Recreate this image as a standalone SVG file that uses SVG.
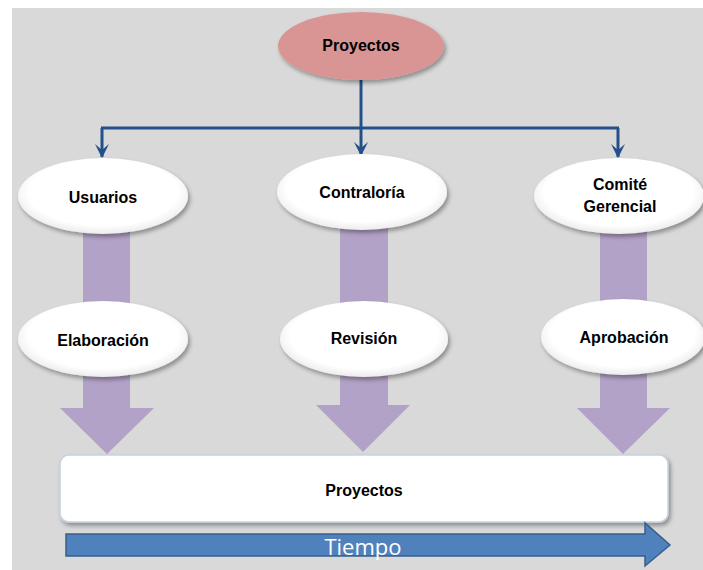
<svg xmlns="http://www.w3.org/2000/svg" width="703" height="570" viewBox="0 0 703 570">
  <style>
    .lbl { font-family: "Liberation Sans", Arial, sans-serif; font-weight: bold; font-size: 16px; fill: #000; text-anchor: middle; }
    .oval { fill: url(#ovalFill); filter: url(#shadow); }
    .flow { fill: #b3a2c7; }
    .link { fill: none; stroke: #24508a; stroke-width: 3; }
  </style>
  <defs>
    <radialGradient id="ovalFill" cx="50%" cy="45%" r="55%">
      <stop offset="0.8" stop-color="#ffffff"/>
      <stop offset="1" stop-color="#ececec"/>
    </radialGradient>
    <filter id="shadow" x="-20%" y="-20%" width="140%" height="150%">
      <feDropShadow dx="2" dy="3" stdDeviation="2" flood-color="#000" flood-opacity="0.35"/>
    </filter>
    <!-- chevron head drawn along +x so orient="auto" turns it with the line -->
    <marker id="head" viewBox="0 0 14 14" refX="13" refY="7" markerWidth="14" markerHeight="14" markerUnits="userSpaceOnUse" orient="auto">
      <path d="M0,0 L14,7 L0,14 L6,7 z" fill="#24508a"/>
    </marker>
  </defs>

  <!-- canvas -->
  <rect x="12" y="8" width="691" height="562" fill="#d9d9d9"/>

  <!-- wide flow arrows behind the ovals -->
  <g id="flows">
    <path class="flow" d="M83,225 H130 V408 H154 L107,454 L60,408 H83 Z"/>
    <path class="flow" d="M340,225 H388 V405 H410 L363,452 L316,405 H340 Z"/>
    <path class="flow" d="M600,225 H647 V408 H670 L623,454 L577,408 H600 Z"/>
  </g>

  <!-- branch connectors -->
  <g id="connectors">
    <path class="link" d="M361,80 V128"/>
    <path class="link" d="M101,128 H619"/>
    <path class="link" d="M102,128 V157" marker-end="url(#head)"/>
    <path class="link" d="M361,128 V155" marker-end="url(#head)"/>
    <path class="link" d="M618,128 V157" marker-end="url(#head)"/>
  </g>

  <g id="top">
    <ellipse cx="361" cy="46" rx="83" ry="34" fill="#d99594" filter="url(#shadow)"/>
    <text class="lbl" x="361" y="51">Proyectos</text>
  </g>

  <g id="usuarios">
    <ellipse class="oval" cx="103" cy="196" rx="85" ry="38"/>
    <text class="lbl" x="103" y="203">Usuarios</text>
  </g>
  <g id="contraloria">
    <ellipse class="oval" cx="362" cy="192" rx="85" ry="38"/>
    <text class="lbl" x="362" y="198">Contraloría</text>
  </g>
  <g id="comite">
    <ellipse class="oval" cx="619" cy="196" rx="85" ry="38"/>
    <text class="lbl" x="620" y="190">Comité</text>
    <text class="lbl" x="620" y="212">Gerencial</text>
  </g>

  <g id="elaboracion">
    <ellipse class="oval" cx="103" cy="339" rx="85" ry="38"/>
    <text class="lbl" x="103" y="346">Elaboración</text>
  </g>
  <g id="revision">
    <ellipse class="oval" cx="364" cy="339" rx="84" ry="38"/>
    <text class="lbl" x="364" y="344">Revisión</text>
  </g>
  <g id="aprobacion">
    <ellipse class="oval" cx="623" cy="337" rx="82" ry="38"/>
    <text class="lbl" x="624" y="343">Aprobación</text>
  </g>

  <g id="proyectos-box">
    <rect x="60" y="455" width="608" height="67" rx="9" fill="#ffffff" stroke="#c6d3e3" stroke-width="1.5" filter="url(#shadow)"/>
    <text class="lbl" x="364" y="496">Proyectos</text>
  </g>

  <g id="tiempo">
    <path d="M66,534 H645 V523 L670,545 L645,566 V556 H66 Z" fill="#4f81bd" stroke="#385d8a" stroke-width="1.5"/>
    <text x="363" y="555" font-family="'Open Sans', 'Liberation Sans', sans-serif" font-size="22" fill="#ffffff" text-anchor="middle">Tiempo</text>
  </g>
</svg>
